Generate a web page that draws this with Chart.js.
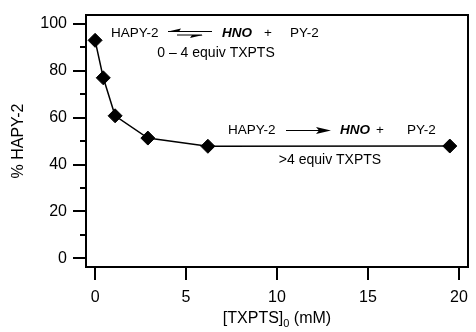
<!DOCTYPE html>
<html><head><meta charset="utf-8">
<script src="https://cdn.jsdelivr.net/npm/chart.js@4"></script>
<style>html,body{margin:0;padding:0;background:#fff}</style>
</head><body>
<canvas id="c" width="476" height="332"></canvas>
<script>
// ---- data ----
const txpts = [0, 0.45, 1.1, 2.9, 6.2, 19.5];          // [TXPTS]0 (mM)
const hapy2 = [93, 77, 60.8, 51.3, 47.8, 47.9];        // % HAPY-2
const xTickValues = [0, 5, 10, 15, 20];
const yTickValues = [0, 20, 40, 60, 80, 100];
const yMinorValues = [10, 30, 50, 70, 90];

const FONT = '"Liberation Sans", Arial, Helvetica, sans-serif';

function drawText(ctx, txt, x, y, size, opts) {
  opts = opts || {};
  ctx.save();
  ctx.font = (opts.style || '') + ' ' + size + 'px ' + FONT;
  ctx.fillStyle = '#000';
  ctx.textAlign = opts.align || 'left';
  ctx.textBaseline = 'middle';
  ctx.fillText(txt, x, y);
  ctx.restore();
}

function zeroPad(s) { s.paddingTop = 0; s.paddingBottom = 0; s.paddingLeft = 0; s.paddingRight = 0; }

const decor = {
  id: 'decor',
  afterDatasetsDraw(chart) {
    const ctx = chart.ctx;
    const a = chart.chartArea;
    const xs = chart.scales.x, ys = chart.scales.y;
    ctx.save();
    ctx.strokeStyle = '#000';
    ctx.lineWidth = 2;
    ctx.setLineDash([]);
    // frame
    ctx.beginPath();
    ctx.moveTo(a.left, a.top); ctx.lineTo(a.right, a.top);
    ctx.lineTo(a.right, a.bottom); ctx.lineTo(a.left, a.bottom);
    ctx.closePath();
    ctx.stroke();
    // x ticks
    ctx.beginPath();
    xTickValues.forEach(v => {
      const p = Math.round(xs.getPixelForValue(v));
      ctx.moveTo(p, a.bottom); ctx.lineTo(p, a.bottom + 13);
    });
    // y ticks
    yTickValues.forEach(v => {
      const p = Math.round(ys.getPixelForValue(v));
      ctx.moveTo(a.left, p); ctx.lineTo(a.left - 13, p);
    });
    yMinorValues.forEach(v => {
      const p = Math.round(ys.getPixelForValue(v));
      ctx.moveTo(a.left, p); ctx.lineTo(a.left - 6, p);
    });
    ctx.stroke();

    // axis titles
    ctx.save();
    ctx.translate(19, (a.top + a.bottom) / 2);
    ctx.rotate(-Math.PI / 2);
    drawText(ctx, '% HAPY-2', 0, 0, 16, {align: 'center'});
    ctx.restore();

    const t1 = '[TXPTS]', t2 = ' (mM)';
    ctx.font = '16px ' + FONT;
    const w1 = ctx.measureText(t1).width, w3 = ctx.measureText(t2).width;
    ctx.font = '11px ' + FONT;
    const w2 = ctx.measureText('0').width;
    const cx = (a.left + a.right) / 2;
    let x0 = cx - (w1 + w2 + w3) / 2;
    const ty = 319;
    drawText(ctx, t1, x0, ty, 16);
    drawText(ctx, '0', x0 + w1, ty + 5, 11);
    drawText(ctx, t2, x0 + w1 + w2, ty, 16);

    // annotations
    const L = a.left, T = a.top;
    const fs = 13.5, fs2 = 14;
    ctx.fillStyle = '#000';
    ctx.lineWidth = 1;
    // line 1 : equilibrium
    let y1 = T + 18;
    drawText(ctx, 'HAPY-2', L + 25, y1, fs);
    drawText(ctx, 'HNO', L + 136, y1, fs, {style: 'italic bold'});
    drawText(ctx, '+', L + 182, y1, fs, {align: 'center'});
    drawText(ctx, 'PY-2', L + 204, y1, fs);
    ctx.beginPath();
    ctx.moveTo(L + 82, y1 - 1.5); ctx.lineTo(L + 126, y1 - 1.5);
    ctx.moveTo(L + 91, y1 + 2); ctx.lineTo(L + 116, y1 + 2);
    ctx.stroke();
    ctx.beginPath();
    ctx.moveTo(L + 82, y1 - 1.5); ctx.lineTo(L + 95, y1 - 4.5); ctx.lineTo(L + 93, y1 - 1.5); ctx.closePath();
    ctx.fill();
    ctx.beginPath();
    ctx.moveTo(L + 117, y1 + 2); ctx.lineTo(L + 104, y1 + 5); ctx.lineTo(L + 106, y1 + 2); ctx.closePath();
    ctx.fill();
    drawText(ctx, '0 \u2013 4 equiv TXPTS', L + 130, T + 38, fs2, {align: 'center'});

    // line 2 : forward
    let y2 = T + 115;
    drawText(ctx, 'HAPY-2', L + 142, y2, fs);
    drawText(ctx, 'HNO', L + 254, y2, fs, {style: 'italic bold'});
    drawText(ctx, '+', L + 294, y2, fs, {align: 'center'});
    drawText(ctx, 'PY-2', L + 321, y2, fs);
    ctx.beginPath();
    ctx.moveTo(L + 200, y2 + 0.5); ctx.lineTo(L + 238, y2 + 0.5);
    ctx.stroke();
    ctx.beginPath();
    ctx.moveTo(L + 245, y2 + 0.5); ctx.lineTo(L + 230, y2 - 3); ctx.lineTo(L + 233, y2 + 0.5);
    ctx.lineTo(L + 230, y2 + 4); ctx.closePath();
    ctx.fill();
    drawText(ctx, '>4 equiv TXPTS', L + 244, T + 145, fs2, {align: 'center'});
    ctx.restore();
  }
};

new Chart(document.getElementById('c'), {
  type: 'line',
  data: {
    datasets: [{
      data: txpts.map((x, i) => ({x: x, y: hapy2[i]})),
      borderColor: '#000',
      borderWidth: 1.5,
      pointStyle: 'rectRot',
      pointRadius: 7,
      pointBackgroundColor: '#000',
      pointBorderColor: '#000',
      pointBorderWidth: 1,
      tension: 0,
      fill: false,
      clip: false
    }]
  },
  options: {
    responsive: false,
    animation: false,
    devicePixelRatio: 1,
    layout: {padding: {top: 15, right: 4, left: 0, bottom: 0}},
    plugins: {legend: {display: false}, tooltip: {enabled: false}},
    scales: {
      x: {
        type: 'linear', min: -0.5, max: 20.5,
        afterBuildTicks: s => { s.ticks = xTickValues.map(v => ({value: v})); },
        afterFit: s => { s.height = 65; zeroPad(s); },
        grid: {display: false, drawTicks: false},
        border: {display: false},
        ticks: {color: '#000', font: {family: FONT, size: 16}, padding: 21, maxRotation: 0}
      },
      y: {
        type: 'linear', min: -3.7, max: 103.8,
        afterBuildTicks: s => { s.ticks = yTickValues.map(v => ({value: v})); },
        afterFit: s => { s.width = 86; zeroPad(s); },
        grid: {display: false, drawTicks: false},
        border: {display: false},
        ticks: {color: '#000', font: {family: FONT, size: 16}, padding: 19}
      }
    }
  },
  plugins: [decor]
});
</script>
</body></html>
